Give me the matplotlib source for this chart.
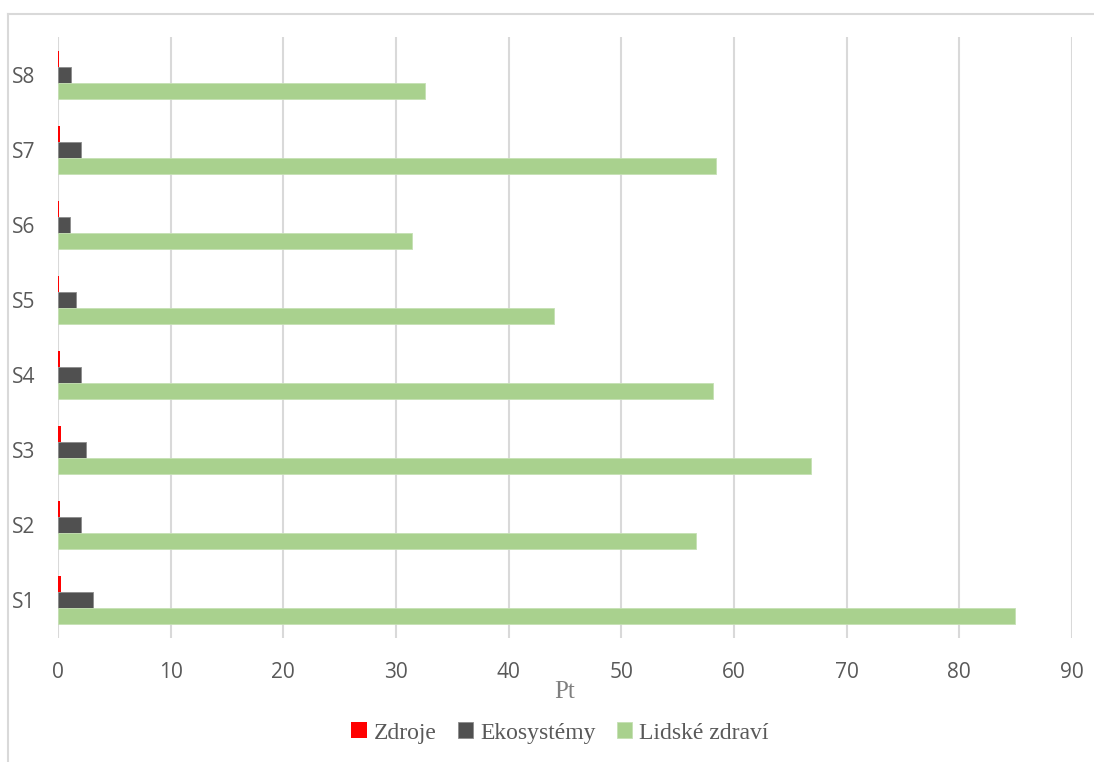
import matplotlib
matplotlib.use("Agg")
import matplotlib.pyplot as plt
import numpy as np
from matplotlib.lines import Line2D

# data
categories = ["S1", "S2", "S3", "S4", "S5", "S6", "S7", "S8"]
zdroje = [0.3, 0.2, 0.24, 0.2, 0.1, 0.05, 0.2, 0.05]
ekosystemy = [3.08, 2.05, 2.45, 2.05, 1.6, 1.1, 2.05, 1.15]
lidske_zdravi = [84.9, 56.6, 66.8, 58.1, 44.0, 31.4, 58.4, 32.6]
series_names = ["Zdroje", "Ekosystémy", "Lidské zdraví"]
xticks = list(range(0, 91, 10))

colors = ["#FF0000", "#505050", "#A9D18E"]
grid_col = "#D9D9D9"
text_col = "#595959"

fig = plt.figure(figsize=(10.94, 7.62), dpi=100)
ax = fig.add_axes([58 / 1094, 1 - 638 / 762, (1072 - 58) / 1094, (638 - 37) / 762])

y = np.arange(len(categories))
h = 0.213
ax.barh(y + h, zdroje, height=h, color=colors[0], label=series_names[0], zorder=3)
ax.barh(y, ekosystemy, height=h, color=colors[1], edgecolor="#8C8C8C", linewidth=0.6,
        label=series_names[1], zorder=3)
ax.barh(y - h, lidske_zdravi, height=h, color=colors[2], edgecolor="#C5E0B4", linewidth=0.6,
        label=series_names[2], zorder=3)

ax.set_xlim(0, 90)
ax.set_ylim(-0.5, len(categories) - 0.5)
ax.set_xticks(xticks)
ax.set_yticks(y)
ax.set_yticklabels(categories)
ax.xaxis.grid(True, color=grid_col, linewidth=1.5, zorder=0)
ax.set_axisbelow(True)
for s in ax.spines.values():
    s.set_visible(False)
ax.tick_params(axis="both", length=0, labelsize=15, labelcolor=text_col)
ax.tick_params(axis="x", pad=17)
ax.tick_params(axis="y", pad=16)
for lab in ax.get_xticklabels() + ax.get_yticklabels():
    lab.set_fontfamily("Open Sans")

ax.set_xlabel("Pt", family="Liberation Serif", fontsize=18, color="#7F7F7F", labelpad=-1)

leg = fig.legend(loc="center", bbox_to_anchor=(560 / 1094, 1 - 733 / 762), ncol=3, frameon=False,
                 prop={"family": "Liberation Serif", "size": 17}, handlelength=0.65, handleheight=0.65,
                 handletextpad=0.3, columnspacing=0.9, labelcolor=text_col)

# chart area border (partially visible in the reference)
fig.add_artist(Line2D([8 / 1094, 8 / 1094], [0, 1 - 14 / 762], color=grid_col, lw=1.5,
                      transform=fig.transFigure))
fig.add_artist(Line2D([8 / 1094, 1], [1 - 14 / 762, 1 - 14 / 762], color=grid_col, lw=1.5,
                      transform=fig.transFigure))

fig.savefig("out.png", dpi=100)
